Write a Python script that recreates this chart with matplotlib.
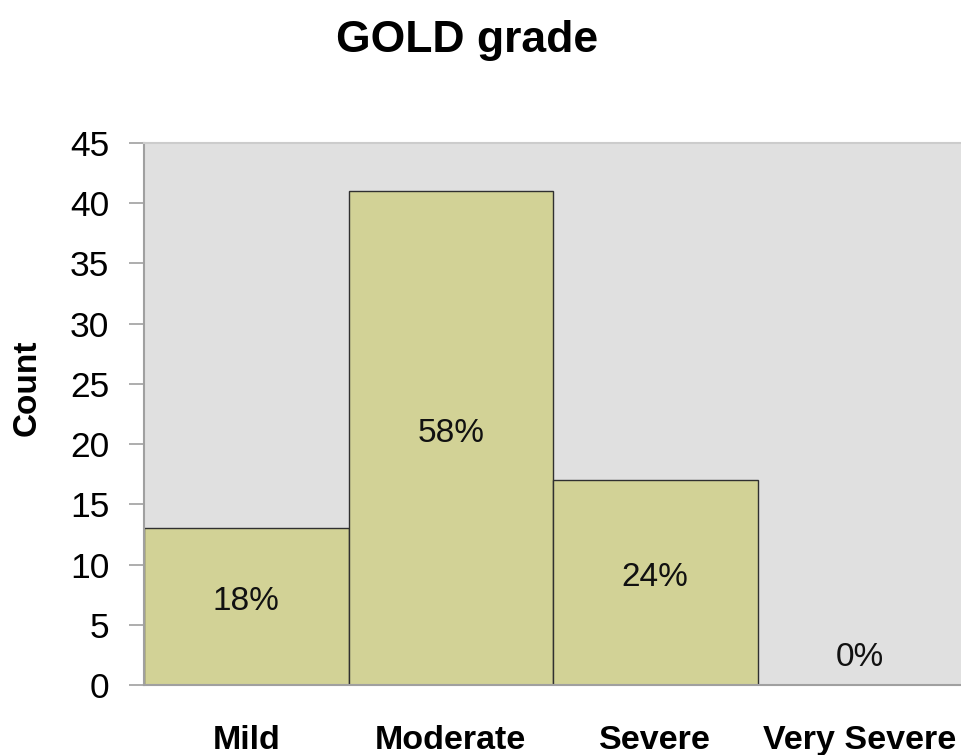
import matplotlib
matplotlib.use('Agg')
import matplotlib.pyplot as plt
import numpy as np

plt.rcParams['font.family'] = ['Liberation Sans', 'DejaVu Sans']

grades = ['Mild', 'Moderate', 'Severe', 'Very Severe']
counts = [13, 41, 17, 0]
yticks = [0, 5, 10, 15, 20, 25, 30, 35, 40, 45]

total = sum(counts)
pcts = [100.0 * c / total for c in counts]

fig = plt.figure(figsize=(9.62, 7.55), dpi=100)
ax = fig.add_axes([0.1497, 0.0927, 0.8503, 0.7179])
ax.set_facecolor('#e0e0e0')

x = np.arange(len(grades))
ax.bar(x, counts, width=1.0, color='#d2d296', edgecolor='#303030', linewidth=1.0, zorder=2)

# percentage labels sit inside the bars, empty bars get theirs just above the floor
for xi, c, p in zip(x, counts, pcts):
    ypos = c / 2 + 0.4 if c > 4 else 2.3
    ax.text(xi, ypos, '%d%%' % round(p), ha='center', va='center', fontsize=24, color='#111111', zorder=3)

ax.set_xlim(-0.5, 3.5)
ax.set_ylim(0, 45)
ax.set_yticks(yticks)
ax.set_xticks(x)
ax.set_xticklabels(grades, fontsize=24.5, fontweight='bold')
ax.tick_params(axis='x', length=0, pad=29)
ax.tick_params(axis='y', labelsize=25.5, length=11, width=1.2, color='#a0a0a0', pad=14)

ax.spines['right'].set_visible(False)
ax.spines['left'].set_color('#a0a0a0')
ax.spines['left'].set_linewidth(1.5)
ax.spines['bottom'].set_color('#a0a0a0')
ax.spines['bottom'].set_linewidth(1.5)
ax.spines['top'].set_color('#cccccc')
ax.spines['top'].set_linewidth(1.5)

fig.text(0.028, 0.486, 'Count', rotation=90, ha='center', va='center', fontsize=24, fontweight='bold')
fig.text(0.485, 0.947, 'GOLD grade', ha='center', va='center', fontsize=32, fontweight='bold')

plt.savefig('out.png', dpi=100)
plt.close()
